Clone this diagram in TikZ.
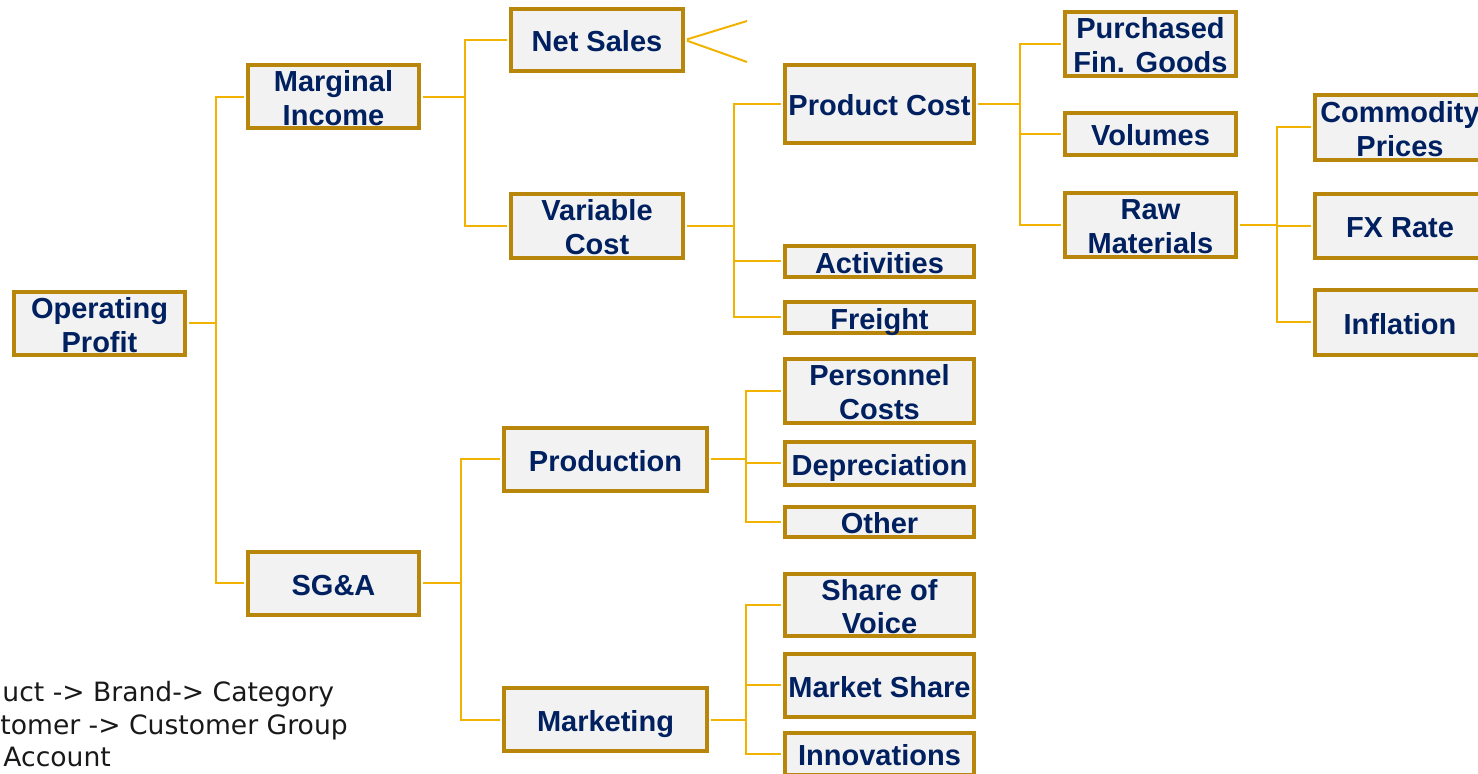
\documentclass[tikz,border=0pt]{standalone}
\usepackage{fontspec}
\setmainfont{Liberation Sans}
\newfontfamily\notefont{DejaVu Sans}

\definecolor{navytext}{RGB}{0,32,96}
\definecolor{boxgold}{RGB}{184,134,11}
\definecolor{boxgray}{RGB}{242,242,242}
\definecolor{linkgold}{RGB}{242,178,0}

\tikzset{
  driver/.style={draw=boxgold, line width=2pt, fill=boxgray, text=navytext,
    font=\bfseries\fontsize{14.5}{17}\selectfont, align=center, inner sep=0pt,
    text height=11.8pt, text depth=0pt, minimum width=85.5pt, minimum height=31.5pt},
  driver2/.style={driver, text height=29pt},
  linkout/.style={draw=linkgold, line width=1pt, shorten <=1pt},
  linkin/.style={draw=linkgold, line width=1pt, shorten >=1pt},
  note/.style={font=\notefont\fontsize{13.3}{15}\selectfont, text=black!90, anchor=base west, inner sep=0pt}
}

\begin{document}
\begin{tikzpicture}[x=0.5pt,y=-0.5pt]
\useasboundingbox (0,0) rectangle (1478,774);

\node[driver2] (op) at (99.5,323.5) {Operating\\Profit};

\node[driver2] (mi) at (333.5,97) {Marginal\\Income};
\node[driver] (sga) at (333.5,583.5) {SG\&A};

  \node[driver, minimum width=86pt, minimum height=31pt] (ns) at (597,40) {Net Sales};
  \node[driver2, minimum width=86pt, minimum height=32pt] (vc) at (597,226) {Variable\\Cost};

\node[driver, minimum width=101.5pt] (prod) at (605.5,459.5) {Production};
\node[driver, minimum width=101.5pt] (mkt) at (605.5,719.5) {Marketing};

  \node[driver, minimum width=94.5pt, minimum height=39pt] (pc) at (879.5,104) {Product Cost};
  \node[driver, minimum width=94.5pt, minimum height=15.5pt] (act) at (879.5,261.5) {Activities};
  \node[driver, minimum width=94.5pt, minimum height=15.5pt] (fr) at (879.5,317.5) {Freight};

\node[driver2, minimum width=94.5pt, minimum height=32pt] (pers) at (879.5,391) {Personnel\\Costs};
\node[driver, minimum width=94.5pt, minimum height=21.5pt] (dep) at (879.5,463.5) {Depreciation};
\node[driver, minimum width=94.5pt, minimum height=15pt] (oth) at (879.5,522) {Other};

\node[driver2, minimum width=94.5pt, minimum height=31pt] (sov) at (879.5,605) {Share of\\Voice};
\node[driver, minimum width=94.5pt] (ms) at (879.5,685.5) {Market Share};
\node[driver, minimum width=94.5pt, minimum height=21pt] (inn) at (879.5,754) {Innovations};

  \node[driver2, minimum height=32pt] (pfg) at (1150.5,44) {Purchased\\Fin. Goods};
  \node[driver, minimum height=21pt] (vol) at (1150.5,134) {Volumes};
  \node[driver2, minimum height=32pt] (raw) at (1150.5,225) {Raw\\Materials};

\node[driver2, minimum height=32.5pt] (com) at (1400,127.5) {Commodity\\Prices};
\node[driver, minimum height=32pt] (fx) at (1400,226) {FX Rate};
\node[driver, minimum height=32.5pt] (inf) at (1400,322.5) {Inflation};


\coordinate (bop) at (216,323.5);
\draw[linkout] (op.east) -- (bop);
\draw[linkin] (bop) |- (mi.west);
\draw[linkin] (bop) |- (sga.west);

\coordinate (bmi) at (465,97);
\draw[linkout] (mi.east) -- (bmi);
\draw[linkin] (bmi) |- (ns.west);
\draw[linkin] (bmi) |- (vc.west);

\coordinate (nsup) at (747,21);
\coordinate (nsdown) at (747,62);
\draw[linkout] (ns.east) -- (nsup);
\draw[linkout] (ns.east) -- (nsdown);

  \coordinate (bvc) at (734,226);
  \draw[linkout] (vc.east) -- (bvc);
  \draw[linkin] (bvc) |- (pc.west);
  \draw[linkin] (bvc) |- (act.west);
  \draw[linkin] (bvc) |- (fr.west);

\coordinate (bpc) at (1020,104);
\draw[linkout] (pc.east) -- (bpc);
\draw[linkin] (bpc) |- (pfg.west);
\draw[linkin] (bpc) |- (vol.west);
\draw[linkin] (bpc) |- (raw.west);

\coordinate (braw) at (1277,225);
\draw[linkout] (raw.east) -- (braw);
\draw[linkin] (braw) |- (com.west);
\draw[linkin] (braw) |- (fx.west);
\draw[linkin] (braw) |- (inf.west);

  \coordinate (bsga) at (461,583.5);
  \draw[linkout] (sga.east) -- (bsga);
  \draw[linkin] (bsga) |- (prod.west);
  \draw[linkin] (bsga) |- (mkt.west);

\coordinate (bprod) at (746,459.5);
\draw[linkout] (prod.east) -- (bprod);
\draw[linkin] (bprod) |- (pers.west);
\draw[linkin] (bprod) |- (dep.west);
\draw[linkin] (bprod) |- (oth.west);

\coordinate (bmkt) at (746,719.5);
\draw[linkout] (mkt.east) -- (bmkt);
\draw[linkin] (bmkt) |- (sov.west);
\draw[linkin] (bmkt) |- (ms.west);
\draw[linkin] (bmkt) |- (inn.west);


\node[note] (hier1) at (2,702) {uct -> Brand-> Category};
\node[note] (hier2) at (0,734) {tomer -> Customer Group};
\node[note] (hier3) at (3,766) {Account};

\end{tikzpicture}
\end{document}
